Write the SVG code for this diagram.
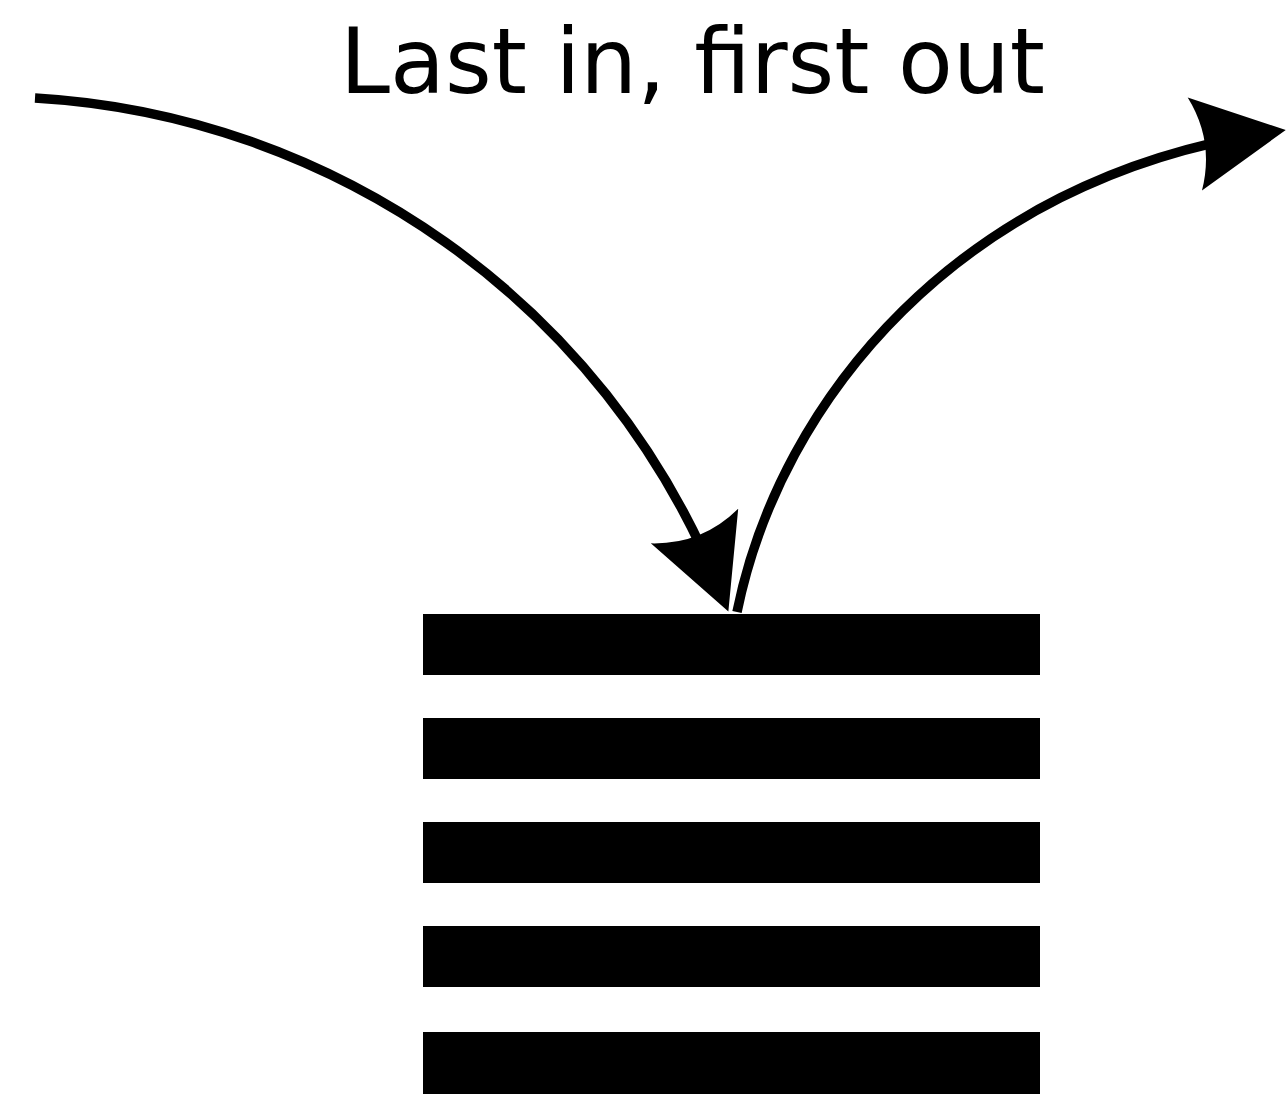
<svg xmlns="http://www.w3.org/2000/svg" width="1286" height="1096" viewBox="0 0 1286 1096">
<style>
.bar{fill:#000}
.conn{fill:none;stroke:#000;stroke-width:9.5}
.lbl{font-family:"DejaVu Sans",sans-serif;font-size:90px;fill:#000}
</style>
<defs>
<marker id="ah" markerUnits="userSpaceOnUse" orient="auto" refX="0" refY="0" markerWidth="200" markerHeight="200" viewBox="-100 -100 200 200" overflow="visible">
<path d="M20,0 L-72,-47 Q-52,0 -72,47 Z" fill="#000"/>
</marker>
</defs>
<rect width="1286" height="1096" fill="#fff"/>
<text class="lbl" x="340" y="93" textLength="705" lengthAdjust="spacingAndGlyphs">Last in, first out</text>
<g id="stack">
<rect class="bar" x="423" y="614" width="617" height="61"/>
<rect class="bar" x="423" y="718" width="617" height="61"/>
<rect class="bar" x="423" y="822" width="617" height="61"/>
<rect class="bar" x="423" y="926" width="617" height="61"/>
<rect class="bar" x="423" y="1032" width="617" height="62"/>
</g>
<g id="connectors">
<path class="conn" d="M35,98 C330,115 605,300 721,593" marker-end="url(#ah)"/>
<path class="conn" d="M737,612 C780,400 960,180 1266,133" marker-end="url(#ah)"/>
</g>
</svg>
